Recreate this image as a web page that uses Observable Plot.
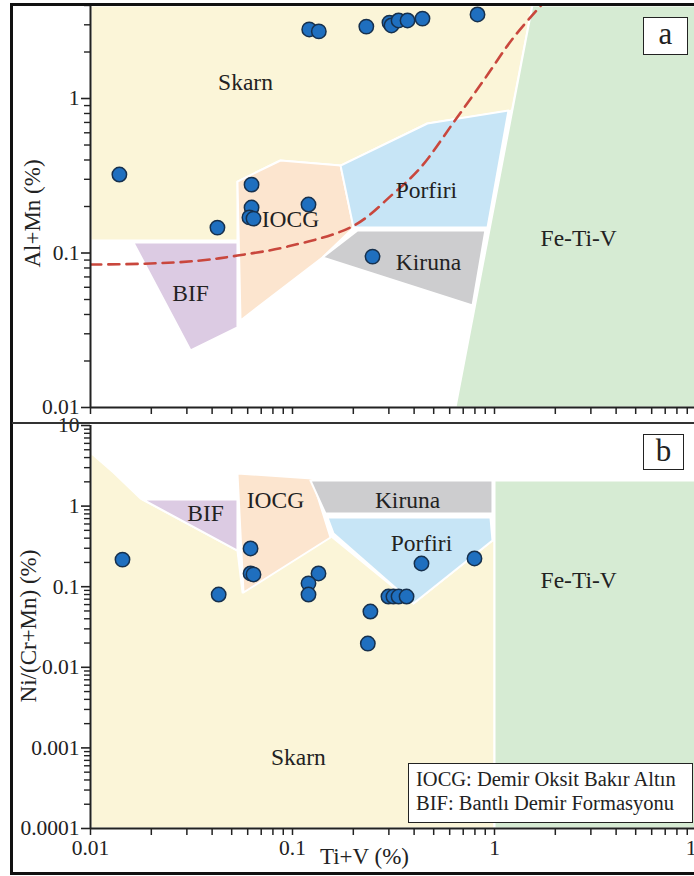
<!DOCTYPE html>
<html><head><meta charset="utf-8">
<script src="https://cdn.jsdelivr.net/npm/d3@7"></script>
<script src="https://cdn.jsdelivr.net/npm/@observablehq/plot@0.6"></script>
<style>
body{margin:0;background:#fff;}
#wrap{position:relative;width:694px;height:876px;overflow:hidden;background:#fff;font-family:"Liberation Serif","Times New Roman",serif;color:#222;}
#pa,#pb{position:absolute;left:0;}
#pa{top:0;}
#pb{top:416px;}
.frame{position:absolute;box-sizing:border-box;left:10px;top:3px;width:720px;height:872px;border:3px solid #111;pointer-events:none;}
.sep{position:absolute;left:12px;top:422px;width:700px;height:0;border-top:2px solid #333;}
.tag{position:absolute;box-sizing:border-box;border:1.5px solid #222;background:#fff;font-size:31px;text-align:center;}
.legend{position:absolute;box-sizing:border-box;left:408px;top:763px;width:285px;height:60px;border:1.5px solid #222;background:#fff;font-size:20.5px;padding:3px 0 0 7px;line-height:24px;white-space:nowrap;}
</style>
</head><body>
<div id="wrap">
  <div id="pa"></div>
  <div id="pb"></div>
  <div class="frame"></div>
  <div class="sep"></div>
  <div class="tag" style="left:643px;top:17px;width:45px;height:38px;line-height:32px;">a</div>
  <div class="tag" style="left:643px;top:434px;width:41px;height:36px;line-height:31px;">b</div>
  <div class="legend">IOCG: Demir Oksit Bakır Altın<br>BIF: Bantlı Demir Formasyonu</div>
</div>
<script>
// ---------- axes ----------
const xDomain = [0.01, 10];
const xTicks = [0.01, 0.1, 1, 10];
const xTickLabels = ["0.01", "0.1", "1", "10"];
const yDomainA = [0.01, 4];
const yTicksA = [0.01, 0.1, 1];
const yTickLabelsA = ["0.01", "0.1", "1"];
const yDomainB = [0.0001, 10];
const yTicksB = [0.0001, 0.001, 0.01, 0.1, 1, 10];
const yTickLabelsB = ["0.0001", "0.001", "0.01", "0.1", "1", "10"];
const xTitle = "Ti+V (%)";
const yTitleA = "Al+Mn (%)";
const yTitleB = "Ni/(Cr+Mn) (%)";

// ---------- panel a: samples ----------
const ptsAx = [0.121, 0.135, 0.232, 0.302, 0.309, 0.335, 0.371, 0.440, 0.824, 0.0139, 0.0425, 0.0627, 0.0627, 0.0612, 0.0641, 0.120, 0.249];
const ptsAy = [2.80, 2.72, 2.92, 3.10, 2.97, 3.20, 3.20, 3.29, 3.50, 0.322, 0.146, 0.277, 0.197, 0.170, 0.167, 0.206, 0.0948];

// ---------- panel b: samples ----------
const ptsBx = [0.0144, 0.0431, 0.0620, 0.0620, 0.0641, 0.1345, 0.120, 0.120, 0.243, 0.236, 0.2985, 0.316, 0.335, 0.367, 0.435, 0.796];
const ptsBy = [0.217, 0.080, 0.298, 0.146, 0.142, 0.146, 0.110, 0.080, 0.0492, 0.0197, 0.0755, 0.0755, 0.0755, 0.0755, 0.194, 0.224];

// ---------- panel a: fields ----------
const skarnA = [[0.01,4],[1.54,4],[1.22,0.836],[0.4655,0.689],[0.173,0.368],[0.0872,0.397],[0.0534,0.29],[0.0534,0.1205],[0.01,0.1205]];
const iocgA = [[0.0534,0.29],[0.0872,0.397],[0.173,0.368],[0.2005,0.146],[0.1408,0.0936],[0.0553,0.0366]];
const bifA = [[0.0163,0.117],[0.0534,0.117],[0.0534,0.033],[0.0313,0.0234]];
const porfiriA = [[0.173,0.368],[0.4655,0.689],[1.173,0.836],[0.923,0.146],[0.2005,0.146]];
const kirunaA = [[0.2098,0.1398],[0.901,0.1398],[0.778,0.0457],[0.1408,0.0936]];
const fetivA = [[0.641,0.01],[1.54,4],[10,4],[10,0.01]];
// dashed boundary curve (panel a)
const dashX = [0.01, 0.0198, 0.0351, 0.0534, 0.0944, 0.2005, 0.316, 0.4305, 0.627, 0.883, 1.242, 1.789];
const dashY = [0.0842, 0.0855, 0.0894, 0.0963, 0.110, 0.150, 0.2426, 0.357, 0.700, 1.309, 2.48, 4.31];

// ---------- panel b: fields ----------
const skarnB = [[0.01,4.62],[0.013,2.61],[0.0177,1.24],[0.0534,0.281],[0.0566,0.0847],[0.1542,0.43],[0.397,0.0619],[0.977,0.374],[1,0.374],[1,0.0001],[0.01,0.0001]];
const bifB = [[0.0181,1.21],[0.0534,1.21],[0.0534,0.281]];
const iocgB = [[0.0534,2.54],[0.125,2.2],[0.1542,0.408],[0.0572,0.0847]];
const kirunaB = [[0.1227,2.08],[0.977,2.08],[0.977,0.809],[0.1456,0.809]];
const porfiriB = [[0.1489,0.7225],[0.955,0.7225],[0.977,0.374],[0.397,0.0619],[0.1596,0.457]];
const fetivB = [[1,2.08],[10,2.08],[10,0.0001],[1,0.0001]];

// ---------- field labels ----------
const labNames = ["Skarn", "IOCG", "BIF", "Porfiri", "Kiruna", "Fe-Ti-V"];
const labAx = [0.0585, 0.0977, 0.0313, 0.460, 0.471, 2.61];
const labAy = [1.269, 0.165, 0.0547, 0.254, 0.0868, 0.124];
const labBx = [0.107, 0.0824, 0.0371, 0.435, 0.371, 2.61];
const labBy = [0.00076, 1.174, 0.809, 0.344, 1.174, 0.119];

// ---------- colours ----------
const C = {skarn:"#fbf5d8", iocg:"#fce5cf", bif:"#dccbe3", porfiri:"#c7e5f6", kiruna:"#cdcdcf", fetiv:"#d6ebd3"};

function minorTicks(lo, hi) {
  const out = [];
  for (let e = Math.floor(Math.log10(lo)); e <= Math.ceil(Math.log10(hi)); e++)
    for (let k = 2; k <= 9; k++) { const v = +(k * Math.pow(10, e)).toPrecision(6); if (v > lo && v < hi * 1.0001) out.push(v); }
  return out;
}
const pts = (xs, ys) => xs.map((x, i) => ({x, y: ys[i]}));
const poly = (arr, fill) => Plot.line(arr.map(([x, y]) => ({x, y})), {x: "x", y: "y", fill, stroke: "white", strokeWidth: 2, curve: "linear-closed"});
const labs = (xs, ys) => labNames.map((t, i) => ({t, x: xs[i], y: ys[i]}));
const fmt = (ticks, labels) => d => labels[ticks.indexOf(d)] ?? "";
const FONT = "'Liberation Serif','Times New Roman',serif";
const style = {background: "transparent", maxWidth: "none", fontFamily: FONT, fontSize: "21px", color: "#222", overflow: "visible"};
const LAB = 23.5, TICK = 21.5, TITLE = 23;

const plotA = Plot.plot({
  width: 698, height: 416,
  marginLeft: 90, marginRight: 2, marginTop: 5, marginBottom: 9,
  style,
  x: {type: "log", domain: xDomain, label: null},
  y: {type: "log", domain: yDomainA, label: null},
  marks: [
    poly(skarnA, C.skarn),
    poly(iocgA, C.iocg),
    poly(bifA, C.bif),
    poly(porfiriA, C.porfiri),
    poly(kirunaA, C.kiruna),
    poly(fetivA, C.fetiv),
    Plot.line(pts(dashX, dashY), {x: "x", y: "y", stroke: "#c9473d", strokeWidth: 2.6, strokeDasharray: "11,7", curve: "catmull-rom", clip: true}),
    Plot.text(labs(labAx, labAy), {x: "x", y: "y", text: "t", fontSize: LAB, fill: "#222"}),
    Plot.dot(pts(ptsAx, ptsAy), {x: "x", y: "y", r: 7.2, fill: "#1f6fbf", stroke: "#16304d", strokeWidth: 1.5}),
    Plot.ruleX([xDomain[0]], {stroke: "#222", strokeWidth: 2}),
    Plot.ruleY([yDomainA[0]], {stroke: "#222", strokeWidth: 2}),
    Plot.axisY({ticks: yTicksA, tickFormat: fmt(yTicksA, yTickLabelsA), tickSize: 9, tickPadding: 2, strokeWidth: 1.6, fontSize: TICK, label: null}),
    Plot.axisY({ticks: minorTicks(yDomainA[0], yDomainA[1]), tickFormat: () => "", tickSize: 6, strokeWidth: 1.4, label: null}),
    Plot.axisX({ticks: xTicks.concat(minorTicks(xDomain[0], xDomain[1])), tickFormat: () => "", tickSize: 7, strokeWidth: 1.5, label: null}),
    Plot.text([yTitleA], {frameAnchor: "left", textAnchor: "middle", rotate: -90, dx: -58, dy: 7, fontSize: TITLE, fill: "#222"})
  ]
});
document.getElementById("pa").append(plotA);

const plotB = Plot.plot({
  width: 698, height: 460,
  marginLeft: 90, marginRight: 2, marginTop: 9, marginBottom: 48,
  style,
  x: {type: "log", domain: xDomain, label: null},
  y: {type: "log", domain: yDomainB, label: null},
  marks: [
    poly(skarnB, C.skarn),
    poly(fetivB, C.fetiv),
    poly(bifB, C.bif),
    poly(iocgB, C.iocg),
    poly(kirunaB, C.kiruna),
    poly(porfiriB, C.porfiri),
    Plot.text(labs(labBx, labBy), {x: "x", y: "y", text: "t", fontSize: LAB, fill: "#222"}),
    Plot.dot(pts(ptsBx, ptsBy), {x: "x", y: "y", r: 7.2, fill: "#1f6fbf", stroke: "#16304d", strokeWidth: 1.5}),
    Plot.ruleX([xDomain[0]], {stroke: "#222", strokeWidth: 2}),
    Plot.ruleY([yDomainB[0]], {stroke: "#222", strokeWidth: 2}),
    Plot.axisY({ticks: yTicksB, tickFormat: fmt(yTicksB, yTickLabelsB), tickSize: 9, tickPadding: 2, strokeWidth: 1.6, fontSize: TICK, label: null}),
    Plot.axisY({ticks: minorTicks(yDomainB[0], yDomainB[1]), tickFormat: () => "", tickSize: 6, strokeWidth: 1.4, label: null}),
    Plot.axisX({ticks: xTicks, tickFormat: fmt(xTicks, xTickLabels), tickSize: 7, tickPadding: 4, strokeWidth: 1.5, fontSize: TICK, label: null}),
    Plot.axisX({ticks: minorTicks(xDomain[0], xDomain[1]), tickFormat: () => "", tickSize: 7, strokeWidth: 1.5, label: null}),
    Plot.text([yTitleB], {frameAnchor: "left", textAnchor: "middle", rotate: -90, dx: -62, dy: -1, fontSize: TITLE, fill: "#222"}),
    Plot.text([xTitle], {frameAnchor: "bottom", dx: -29, dy: 35, fontSize: TITLE, fill: "#222"})
  ]
});
document.getElementById("pb").append(plotB);
</script>
</body></html>
